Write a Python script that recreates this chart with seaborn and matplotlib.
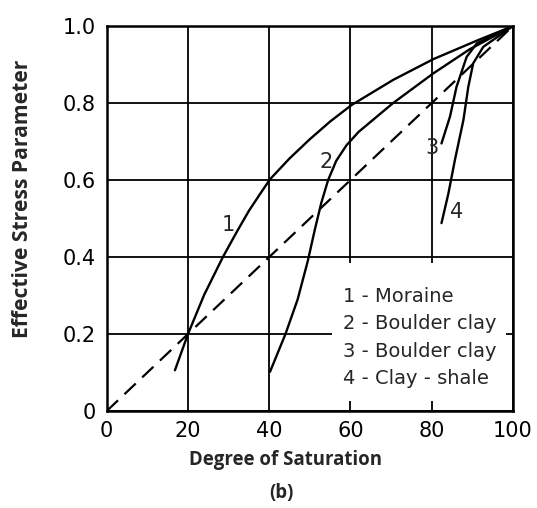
import seaborn as sns
import matplotlib.pyplot as plt
from matplotlib.patches import Rectangle

sns.set_style('white')
plt.rcParams['font.family'] = ['DejaVu Sans']

# 读图得到的数据
moraine_x = [16.8, 20.0, 24.0, 28.6, 32.0, 35.0, 37.7, 40.2, 45.0, 50.0, 55.0, 60.3, 70.5, 80.4, 91.1, 100]
moraine_y = [0.106, 0.200, 0.302, 0.400, 0.465, 0.520, 0.563, 0.602, 0.656, 0.706, 0.752, 0.795, 0.860, 0.914, 0.962, 1.0]

boulder1_x = [40.2, 44.0, 47.0, 49.5, 51.2, 52.8, 54.5, 56.5, 59.0, 62.0, 70.5, 80.4, 89.4, 100]
boulder1_y = [0.102, 0.200, 0.290, 0.390, 0.470, 0.540, 0.600, 0.650, 0.690, 0.725, 0.800, 0.877, 0.940, 1.0]

boulder2_x = [82.4, 84.5, 86.1, 88.6, 91.1, 100]
boulder2_y = [0.695, 0.765, 0.842, 0.920, 0.955, 1.0]

shale_x = [82.4, 84.1, 85.7, 87.8, 89.0, 90.2, 92.7, 100]
shale_y = [0.488, 0.565, 0.652, 0.756, 0.842, 0.903, 0.946, 1.0]

line_x = [0, 100]
line_y = [0.0, 1.0]

curve_labels = ['1', '2', '3', '4']
label_pos = [(29.9, 0.483), (54.1, 0.648), (80.0, 0.682), (86.1, 0.518)]
legend_lines = ['1 - Moraine', '2 - Boulder clay', '3 - Boulder clay', '4 - Clay - shale']

fig = plt.figure(figsize=(5.37, 5.08), dpi=100)
ax = fig.add_axes([0.1987, 0.1909, 0.7566, 0.7579])

for xs, ys in [(moraine_x, moraine_y), (boulder1_x, boulder1_y),
               (boulder2_x, boulder2_y), (shale_x, shale_y)]:
    sns.lineplot(x=xs, y=ys, sort=False, color='black', lw=1.7, ax=ax, zorder=3)
sns.lineplot(x=line_x, y=line_y, color='black', lw=1.6, ax=ax, zorder=3,
             linestyle=(0, (7, 4)))

ax.set_xlim(0, 100)
ax.set_ylim(0, 1.0)
ax.set_xticks([0, 20, 40, 60, 80, 100])
ax.set_yticks([0, 0.2, 0.4, 0.6, 0.8, 1.0])
ax.set_yticklabels(['0', '0.2', '0.4', '0.6', '0.8', '1.0'])
ax.grid(True, color='black', lw=1.3)
ax.set_axisbelow(True)
for s in ax.spines.values():
    s.set_color('black')
    s.set_linewidth(1.8)
ax.tick_params(direction='in', length=0, labelsize=15, colors='black')
ax.tick_params(axis='x', pad=7)
ax.tick_params(axis='y', pad=8)

# 图例区域白底
ax.add_patch(Rectangle((55.4, 0.025), 42.9, 0.36, facecolor='white',
                       edgecolor='none', zorder=1))

for t, (px, py) in zip(curve_labels, label_pos):
    ax.text(px, py, t, fontsize=15, ha='center', va='center', zorder=4)

ax.text(58.2, 0.191, '\n'.join(legend_lines), fontsize=14, ha='left', va='center',
        linespacing=1.55, zorder=4)

fig.text(0.041, 0.609, 'Effective Stress Parameter', rotation=90, fontsize=15.2,
         fontweight='bold', family='Open Sans', ha='center', va='center')
fig.text(0.531, 0.0945, 'Degree of Saturation', fontsize=13.4, fontweight='bold',
         family='Open Sans', ha='center', va='center')
fig.text(0.525, 0.0295, '(b)', fontsize=13.4, fontweight='bold',
         family='Open Sans', ha='center', va='center')

plt.savefig('out.png', dpi=100)
